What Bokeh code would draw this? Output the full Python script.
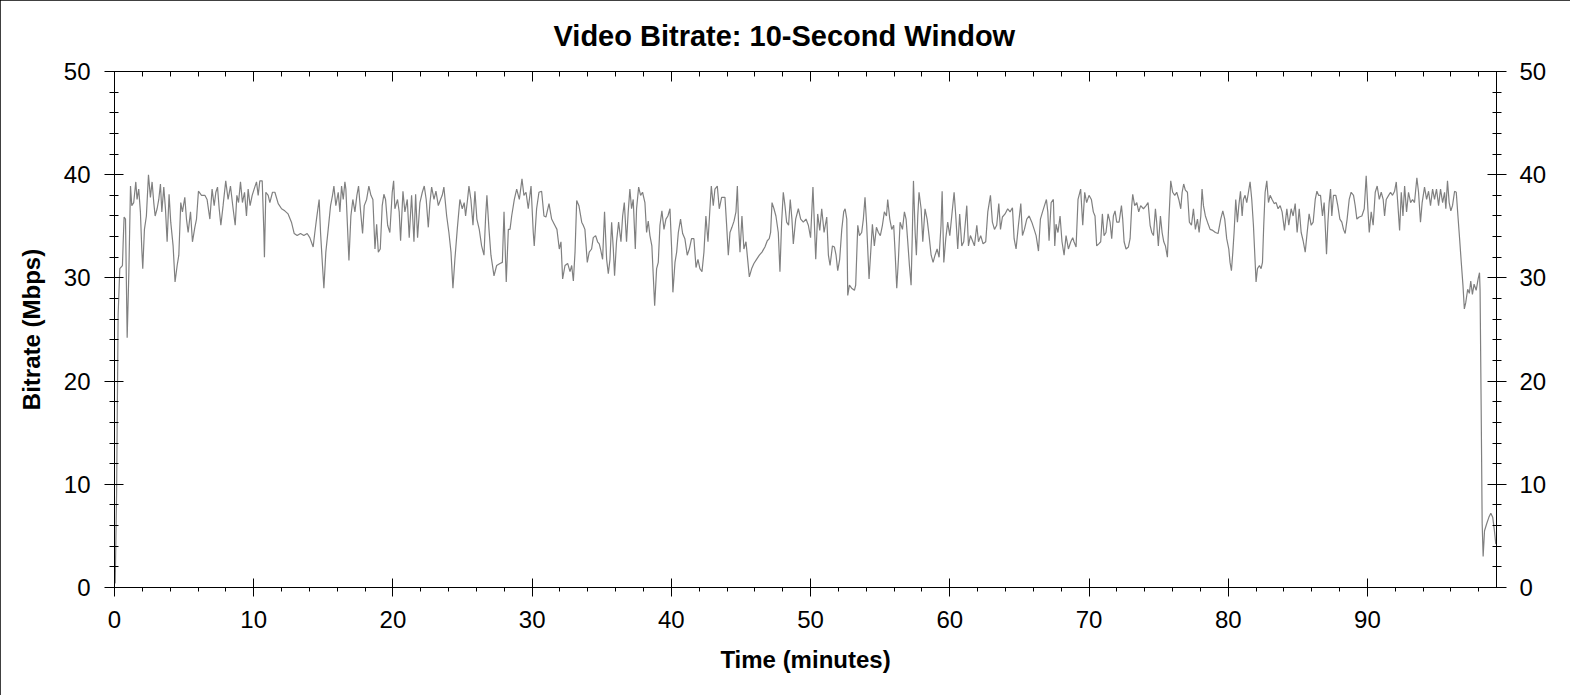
from bokeh.embed import file_html
from bokeh.models import LinearAxis, SingleIntervalTicker
from bokeh.plotting import figure
from bokeh.resources import INLINE

# minutes into the video
minutes = [
    0.05, 0.15, 0.26, 0.38, 0.57, 0.62, 0.69, 0.79, 0.91, 1.03,
    1.15, 1.24, 1.38, 1.53, 1.62, 1.74, 1.86, 1.96, 2.03, 2.15,
    2.29, 2.44, 2.58, 2.70, 2.82, 2.92, 3.06, 3.18, 3.30, 3.40,
    3.54, 3.66, 3.78, 3.92, 4.04, 4.21, 4.35, 4.50, 4.62, 4.76,
    4.88, 5.05, 5.17, 5.29, 5.46, 5.60, 5.77, 5.89, 6.03, 6.25,
    6.49, 6.65, 6.85, 7.01, 7.16, 7.28, 7.40, 7.52, 7.64, 7.80,
    7.99, 8.16, 8.33, 8.52, 8.67, 8.79, 8.91, 9.05, 9.19, 9.34,
    9.48, 9.60, 9.74, 9.89, 10.03, 10.20, 10.32, 10.44, 10.61, 10.73,
    10.77, 10.87, 11.04, 11.16, 11.35, 11.52, 11.76, 12.00, 12.23, 12.47,
    12.71, 12.91, 13.12, 13.36, 13.60, 13.84, 14.03, 14.27, 14.39, 14.51,
    14.70, 14.80, 14.94, 15.04, 15.18, 15.35, 15.52, 15.66, 15.76, 15.90,
    16.07, 16.19, 16.31, 16.43, 16.55, 16.62, 16.84, 16.98, 17.12, 17.27,
    17.41, 17.53, 17.68, 17.82, 17.94, 18.11, 18.27, 18.42, 18.56, 18.71,
    18.83, 18.95, 19.09, 19.23, 19.35, 19.47, 19.62, 19.78, 19.95, 20.05,
    20.14, 20.33, 20.45, 20.55, 20.72, 20.86, 21.03, 21.17, 21.34, 21.51,
    21.63, 21.77, 21.94, 22.11, 22.25, 22.39, 22.54, 22.66, 22.78, 22.95,
    23.09, 23.26, 23.42, 23.54, 23.66, 23.86, 24.02, 24.17, 24.31, 24.45,
    24.62, 24.81, 24.98, 25.12, 25.22, 25.36, 25.46, 25.60, 25.75, 25.89,
    26.03, 26.20, 26.37, 26.54, 26.66, 26.75, 26.90, 27.04, 27.26, 27.45,
    27.69, 27.86, 27.98, 28.14, 28.29, 28.41, 28.53, 28.72, 28.89, 29.08,
    29.27, 29.41, 29.56, 29.72, 29.92, 30.08, 30.15, 30.32, 30.49, 30.68,
    30.85, 30.99, 31.21, 31.40, 31.59, 31.78, 31.95, 32.07, 32.19, 32.36,
    32.55, 32.72, 32.84, 32.96, 33.08, 33.20, 33.36, 33.56, 33.67, 33.79,
    33.96, 34.10, 34.27, 34.39, 34.56, 34.70, 34.82, 34.91, 35.06, 35.20,
    35.35, 35.47, 35.59, 35.71, 35.83, 35.92, 36.06, 36.21, 36.38, 36.50,
    36.62, 36.78, 36.90, 37.02, 37.14, 37.26, 37.41, 37.50, 37.65, 37.79,
    37.93, 38.10, 38.22, 38.34, 38.46, 38.60, 38.70, 38.80, 38.94, 39.06,
    39.18, 39.32, 39.47, 39.61, 39.75, 39.90, 40.02, 40.11, 40.26, 40.38,
    40.50, 40.66, 40.81, 40.97, 41.14, 41.29, 41.45, 41.62, 41.77, 41.91,
    42.05, 42.20, 42.34, 42.48, 42.63, 42.77, 42.87, 43.01, 43.13, 43.30,
    43.44, 43.61, 43.85, 43.97, 44.09, 44.21, 44.35, 44.50, 44.64, 44.74,
    44.83, 44.93, 45.07, 45.21, 45.36, 45.48, 45.60, 45.77, 45.93, 46.12,
    46.32, 46.51, 46.72, 46.89, 47.03, 47.13, 47.23, 47.37, 47.51, 47.68,
    47.80, 47.92, 48.04, 48.16, 48.28, 48.42, 48.54, 48.66, 48.76, 48.93,
    49.12, 49.29, 49.48, 49.67, 49.84, 50.00, 50.17, 50.26, 50.37, 50.51,
    50.66, 50.80, 50.97, 51.16, 51.28, 51.40, 51.57, 51.71, 51.83, 51.95,
    52.09, 52.24, 52.38, 52.48, 52.60, 52.67, 52.79, 52.95, 53.15, 53.24,
    53.39, 53.51, 53.67, 53.79, 53.91, 54.03, 54.20, 54.32, 54.44, 54.58,
    54.73, 54.87, 55.01, 55.16, 55.30, 55.45, 55.54, 55.69, 55.83, 55.97,
    56.07, 56.19, 56.31, 56.43, 56.60, 56.74, 56.86, 56.98, 57.10, 57.22,
    57.31, 57.39, 57.51, 57.60, 57.70, 57.79, 57.94, 58.06, 58.22, 58.37,
    58.51, 58.66, 58.80, 58.94, 59.09, 59.23, 59.37, 59.45, 59.57, 59.71,
    59.85, 60.00, 60.14, 60.31, 60.43, 60.57, 60.71, 60.86, 61.00, 61.10,
    61.22, 61.34, 61.48, 61.63, 61.77, 61.94, 62.06, 62.22, 62.39, 62.58,
    62.73, 62.92, 63.06, 63.21, 63.37, 63.52, 63.64, 63.78, 63.97, 64.16,
    64.33, 64.50, 64.62, 64.76, 64.93, 65.10, 65.22, 65.36, 65.53, 65.70,
    65.89, 66.06, 66.20, 66.37, 66.51, 66.66, 66.80, 66.94, 67.04, 67.13,
    67.28, 67.44, 67.54, 67.63, 67.77, 67.92, 68.06, 68.21, 68.35, 68.52,
    68.69, 68.83, 68.92, 69.07, 69.21, 69.40, 69.55, 69.69, 69.83, 70.00,
    70.17, 70.31, 70.43, 70.55, 70.70, 70.84, 70.96, 71.08, 71.22, 71.37,
    71.51, 71.63, 71.75, 71.87, 71.99, 72.16, 72.33, 72.42, 72.52, 72.66,
    72.83, 72.95, 73.07, 73.14, 73.28, 73.43, 73.57, 73.71, 73.91, 74.10,
    74.24, 74.39, 74.51, 74.63, 74.77, 74.86, 74.98, 75.13, 75.25, 75.37,
    75.49, 75.63, 75.75, 75.87, 76.01, 76.16, 76.30, 76.45, 76.59, 76.69,
    76.80, 76.92, 77.07, 77.21, 77.36, 77.50, 77.64, 77.79, 77.91, 78.03,
    78.12, 78.22, 78.36, 78.51, 78.70, 78.89, 79.08, 79.27, 79.46, 79.61,
    79.75, 79.89, 80.04, 80.13, 80.23, 80.33, 80.42, 80.54, 80.66, 80.76,
    80.88, 81.00, 81.09, 81.21, 81.33, 81.45, 81.57, 81.69, 81.81, 81.91,
    82.00, 82.10, 82.24, 82.36, 82.46, 82.55, 82.65, 82.77, 82.89, 83.01,
    83.15, 83.30, 83.44, 83.58, 83.73, 83.87, 84.04, 84.21, 84.35, 84.52,
    84.66, 84.81, 84.95, 85.10, 85.24, 85.38, 85.53, 85.67, 85.81, 85.96,
    86.10, 86.25, 86.37, 86.49, 86.63, 86.77, 86.89, 86.99, 87.06, 87.16,
    87.25, 87.35, 87.44, 87.56, 87.73, 87.87, 88.02, 88.16, 88.28, 88.40,
    88.54, 88.69, 88.83, 89.00, 89.12, 89.24, 89.41, 89.60, 89.77, 89.91,
    90.03, 90.13, 90.27, 90.41, 90.56, 90.70, 90.85, 90.99, 91.13, 91.23,
    91.35, 91.52, 91.66, 91.80, 91.95, 92.07, 92.19, 92.31, 92.43, 92.55,
    92.67, 92.81, 92.95, 93.10, 93.24, 93.38, 93.55, 93.67, 93.81, 93.93,
    94.10, 94.25, 94.39, 94.53, 94.68, 94.82, 94.96, 95.11, 95.25, 95.40,
    95.54, 95.63, 95.75, 95.87, 95.99, 96.11, 96.26, 96.38, 96.50, 96.62,
    96.74, 96.86, 96.96, 97.06, 97.20, 97.32, 97.42, 97.54, 97.66, 97.81,
    97.95, 98.05, 98.09, 98.17, 98.24, 98.31, 98.41, 98.57, 98.72, 98.86,
    99.00, 99.12, 99.22,
]

# bitrate over the 10-second window (Mbps)
bitrate = [
    0.4, 9.0, 26.4, 30.9, 31.2, 33.3, 35.9, 35.7, 24.2, 30.5,
    38.9, 37.0, 37.3, 39.3, 37.6, 38.6, 36.4, 32.8, 30.9, 34.7,
    36.0, 40.0, 37.8, 39.3, 37.3, 36.0, 36.7, 37.6, 39.1, 36.4,
    38.8, 36.7, 33.5, 38.1, 35.4, 33.1, 29.6, 31.2, 32.2, 37.3,
    36.4, 37.8, 35.7, 34.4, 36.4, 33.5, 34.9, 35.7, 38.4, 38.0,
    38.0, 37.6, 35.7, 38.6, 37.0, 38.3, 38.8, 36.7, 35.1, 37.0,
    39.4, 37.6, 38.9, 36.7, 35.1, 38.0, 37.3, 39.3, 37.3, 38.3,
    36.0, 38.6, 37.0, 38.0, 38.6, 39.3, 38.0, 39.4, 39.4, 34.4,
    32.0, 38.3, 38.0, 37.3, 38.3, 38.3, 37.2, 36.7, 36.5, 36.2,
    35.4, 34.3, 34.1, 34.3, 34.1, 34.3, 33.9, 33.0, 34.4, 35.7,
    37.6, 34.4, 31.2, 29.0, 32.5, 34.7, 37.0, 38.0, 38.9, 37.0,
    38.3, 36.4, 38.9, 37.6, 39.3, 38.6, 31.7, 36.0, 37.6, 36.4,
    38.0, 38.9, 36.4, 34.3, 37.0, 37.6, 38.9, 38.0, 37.6, 32.8,
    35.2, 32.5, 32.8, 37.0, 38.1, 37.6, 35.1, 34.4, 38.3, 39.4,
    36.7, 37.6, 36.4, 33.6, 38.4, 36.4, 37.6, 33.9, 38.0, 33.5,
    38.1, 33.9, 37.3, 38.3, 38.9, 37.6, 34.9, 37.3, 38.8, 37.6,
    38.4, 37.0, 37.6, 38.0, 38.8, 36.0, 34.4, 32.5, 29.0, 31.8,
    34.7, 37.6, 36.7, 37.3, 36.0, 37.6, 38.9, 37.6, 35.1, 38.4,
    35.7, 34.7, 33.1, 32.2, 36.0, 38.0, 34.7, 32.2, 30.2, 31.2,
    31.4, 31.5, 36.4, 29.6, 34.7, 34.7, 36.0, 37.6, 38.6, 37.6,
    39.6, 38.0, 38.3, 36.7, 38.9, 34.4, 33.1, 36.7, 38.3, 38.4,
    36.0, 35.9, 37.2, 35.7, 35.2, 34.7, 32.8, 33.5, 29.9, 31.2,
    31.4, 30.6, 31.2, 29.7, 32.5, 37.5, 37.0, 35.4, 35.1, 34.7,
    31.5, 32.5, 32.8, 33.9, 34.1, 33.5, 33.3, 32.8, 31.8, 36.4,
    31.8, 30.4, 31.8, 35.4, 32.8, 30.2, 33.5, 35.4, 33.5, 36.0,
    37.3, 33.5, 36.4, 38.6, 36.7, 37.6, 32.8, 36.7, 38.8, 38.0,
    38.3, 37.3, 34.4, 35.5, 34.1, 33.1, 30.2, 27.3, 30.9, 31.5,
    35.1, 36.5, 34.7, 35.7, 36.0, 36.7, 32.8, 28.6, 31.5, 32.5,
    34.4, 35.7, 34.3, 33.8, 32.2, 32.8, 33.8, 33.8, 31.0, 31.8,
    30.9, 30.6, 32.5, 36.0, 33.5, 36.7, 38.9, 37.0, 38.6, 38.9,
    36.7, 37.8, 37.8, 35.1, 32.2, 34.4, 34.9, 35.5, 36.4, 38.9,
    35.1, 32.5, 36.0, 32.8, 33.5, 31.8, 30.1, 30.9, 31.4, 31.8,
    32.2, 32.5, 33.0, 33.6, 33.8, 34.4, 37.3, 36.7, 36.0, 34.4,
    30.6, 35.4, 38.3, 37.0, 35.4, 35.1, 37.6, 35.7, 33.3, 35.7,
    36.7, 35.7, 35.4, 35.7, 35.1, 33.9, 38.8, 35.7, 31.8, 36.2,
    34.6, 36.7, 34.4, 35.9, 32.2, 31.2, 33.1, 33.0, 32.2, 30.7,
    31.8, 34.7, 36.4, 36.7, 35.7, 28.3, 29.3, 29.0, 28.8, 29.3,
    35.1, 34.1, 34.4, 35.7, 37.8, 35.1, 29.9, 32.5, 35.2, 33.1,
    34.9, 34.4, 34.1, 35.1, 36.4, 36.0, 37.6, 35.7, 34.7, 35.1,
    32.5, 29.0, 31.8, 35.4, 34.7, 36.4, 35.7, 33.5, 31.2, 29.3,
    34.4, 39.4, 34.4, 32.2, 36.0, 38.3, 36.7, 33.5, 36.7, 35.7,
    34.1, 32.2, 31.5, 32.2, 32.8, 32.0, 35.1, 38.4, 31.5, 33.8,
    35.4, 34.1, 36.0, 38.3, 36.0, 32.8, 36.2, 33.1, 33.5, 35.1,
    37.0, 33.1, 34.1, 33.6, 33.1, 35.1, 33.5, 34.1, 33.3, 33.5,
    36.4, 38.0, 35.4, 34.7, 35.1, 37.2, 34.7, 35.9, 36.2, 36.7,
    36.4, 36.8, 33.8, 32.8, 35.1, 37.2, 34.1, 34.7, 35.7, 36.0,
    35.4, 34.7, 34.1, 32.6, 35.7, 36.4, 37.0, 37.6, 36.4, 33.6,
    37.3, 37.6, 33.1, 35.2, 34.4, 36.0, 33.5, 32.2, 34.1, 32.8,
    33.5, 33.9, 33.5, 33.0, 37.6, 38.6, 35.1, 38.3, 37.3, 38.0,
    37.6, 36.4, 36.0, 33.1, 33.3, 33.5, 36.2, 34.1, 34.4, 36.2,
    35.4, 33.8, 36.0, 36.5, 35.4, 35.4, 37.0, 35.7, 33.5, 32.8,
    33.0, 33.8, 37.0, 38.1, 37.0, 37.3, 36.4, 37.0, 36.7, 37.0,
    37.3, 35.1, 34.4, 34.1, 36.7, 35.4, 33.1, 36.0, 34.4, 33.5,
    33.1, 32.0, 36.0, 39.4, 38.3, 38.0, 38.3, 37.6, 36.7, 38.3,
    39.1, 38.5, 38.3, 35.4, 35.1, 36.7, 34.7, 35.7, 34.4, 36.0,
    38.6, 37.0, 36.0, 35.4, 34.7, 34.6, 34.4, 34.3, 35.7, 36.5,
    35.7, 33.8, 32.8, 31.5, 30.7, 32.5, 34.4, 37.6, 35.4, 37.0,
    38.4, 36.0, 37.6, 38.0, 37.3, 38.3, 39.3, 37.6, 35.1, 32.2,
    29.6, 30.9, 31.2, 30.9, 31.5, 35.1, 38.3, 39.4, 37.3, 38.0,
    37.6, 37.2, 37.3, 36.7, 37.0, 36.4, 34.6, 36.7, 35.1, 36.7,
    36.0, 37.2, 34.4, 36.7, 34.4, 33.6, 32.5, 34.4, 36.2, 35.1,
    35.4, 37.6, 38.4, 38.0, 38.0, 36.0, 37.3, 34.4, 32.3, 35.4,
    37.3, 38.6, 36.0, 38.0, 38.0, 37.0, 35.7, 35.4, 34.7, 34.3,
    35.7, 37.6, 38.3, 38.0, 37.0, 35.7, 35.9, 36.0, 36.7, 39.9,
    36.7, 34.4, 36.4, 35.1, 38.3, 38.9, 37.6, 38.3, 37.6, 36.0,
    37.6, 38.0, 38.3, 38.0, 38.4, 39.3, 37.0, 34.6, 38.3, 36.0,
    38.9, 36.4, 38.3, 37.3, 37.6, 37.3, 39.7, 38.3, 35.4, 37.3,
    38.8, 37.6, 38.4, 37.0, 38.6, 37.6, 38.6, 37.0, 38.6, 37.3,
    38.3, 36.7, 39.4, 37.3, 36.5, 37.0, 38.4, 38.3, 36.0, 33.8,
    31.5, 29.3, 27.0, 27.6, 28.9, 28.5, 29.7, 28.4, 29.4, 28.8,
    29.9, 30.5, 28.8, 17.2, 6.2, 3.0, 5.5, 6.2, 6.8, 7.2,
    6.8, 5.5, 4.2,
]

x_end = 99.27
font = "Liberation Sans"

p = figure(frame_width=1382, frame_height=516,
           x_range=(0, x_end), y_range=(0, 50),
           min_border_left=114, min_border_right=74,
           min_border_top=71, min_border_bottom=108,
           output_backend="svg", toolbar_location=None)

p.title.text = "Video Bitrate: 10-Second Window"
p.title.align = "left"
p.title.offset = 439  # centred on the whole image, not the plot area
p.title.text_font = font
p.title.text_font_size = "29px"
p.title.text_font_style = "bold"
p.title.text_color = "black"
p.title.vertical_align = "top"
p.title.standoff = 36

p.grid.visible = False
p.outline_line_color = None
p.background_fill_color = "white"
p.border_fill_color = "white"
p.styles = {"outline": "1px solid black", "outline-offset": "-1px"}

def make_ticker():
    return SingleIntervalTicker(interval=10, num_minor_ticks=5)

def style_axis(axis):
    axis.axis_line_color = "black"
    axis.major_tick_line_color = "black"
    axis.minor_tick_line_color = "black"
    axis.major_label_text_font = font
    axis.major_label_text_font_size = "24px"
    axis.major_label_text_color = "black"
    axis.axis_label_text_font = font
    axis.axis_label_text_font_size = "24px"
    axis.axis_label_text_font_style = "bold"
    axis.axis_label_text_color = "black"

# bottom axis
xa = p.xaxis[0]
xa.ticker = make_ticker()
style_axis(xa)
xa.axis_label = "Time (minutes)"
xa.major_tick_in = 9
xa.major_tick_out = 9
xa.minor_tick_in = 0
xa.minor_tick_out = 4
xa.major_label_standoff = 14
xa.axis_label_standoff = 15

# left axis
ya = p.yaxis[0]
ya.ticker = make_ticker()
style_axis(ya)
ya.axis_label = "Bitrate (Mbps)"
ya.major_tick_in = 9
ya.major_tick_out = 10
ya.minor_tick_in = 4
ya.minor_tick_out = 5
ya.major_label_standoff = 14
ya.axis_label_standoff = 16

# right axis, same scale
yr = LinearAxis(ticker=make_ticker())
style_axis(yr)
yr.major_tick_in = 9
yr.major_tick_out = 10
yr.minor_tick_in = 4
yr.minor_tick_out = 5
yr.major_label_standoff = 13
p.add_layout(yr, "right")

# top axis: ticks only
xt = LinearAxis(ticker=make_ticker())
style_axis(xt)
xt.major_tick_in = 10
xt.major_tick_out = 0
xt.minor_tick_in = 5
xt.minor_tick_out = 0
xt.major_label_overrides = {t: "" for t in range(0, 100, 10)}
p.add_layout(xt, "above")

p.line(minutes, bitrate, line_color="#808080", line_width=1.2)

open("out.html", "w").write(file_html(p, INLINE))
